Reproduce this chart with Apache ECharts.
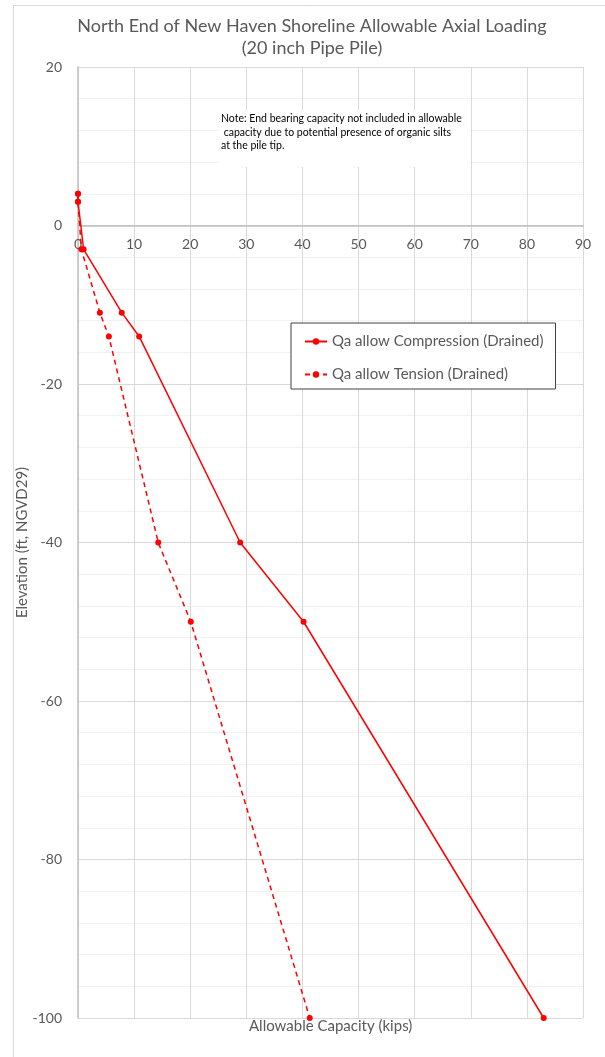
<!DOCTYPE html>
<html>
<head>
<meta charset="utf-8">
<script src="https://cdn.jsdelivr.net/npm/echarts@6/dist/echarts.min.js"></script>
<style>html,body{margin:0;padding:0;background:#fff;}#c{width:605px;height:1057px;}</style>
</head>
<body>
<div id="c"></div>
<script>
var elevations = [4, 3, -3, -11, -14, -40, -50, -100];
var compression = [0, 0, 1, 7.8, 10.9, 28.9, 40.2, 83];
var tension = [0, 0, 0.6, 3.9, 5.5, 14.3, 20.1, 41.3];
var seriesNames = ['Qa allow Compression (Drained)', 'Qa allow Tension (Drained)'];
var titleText = 'North End of New Haven Shoreline Allowable Axial Loading\n(20 inch Pipe Pile)';
var xAxisTitle = 'Allowable Capacity (kips)';
var yAxisTitle = 'Elevation (ft, NGVD29)';
var noteText = 'Note: End bearing capacity not included in allowable\n capacity due to potential presence of organic silts\nat the pile tip.';

function pairs(xs, ys) { return xs.map(function (v, i) { return [v, ys[i]]; }); }

var W = 605, H = 1057;
var GRID = {left: 78, right: 22, top: 67, bottom: 39};
var Y_MIN = -100, Y_MAX = 20;
// shift the x axis up so that it sits on elevation 0
var plotH = H - GRID.top - GRID.bottom;
var xAxisOffset = -plotH * (0 - Y_MIN) / (Y_MAX - Y_MIN);

var FONT = 'Lato, "Open Sans", sans-serif';
var chart = echarts.init(document.getElementById('c'), null, {renderer: 'canvas'});
chart.setOption({
  backgroundColor: '#fff',
  animation: false,
  title: {
    text: titleText,
    left: 307, top: 10, textAlign: 'center',
    textStyle: {fontFamily: FONT, fontSize: 18, fontWeight: 'normal', color: '#595959', lineHeight: 22}
  },
  legend: {
    orient: 'vertical',
    left: 291, top: 323,
    padding: [11, 12, 7, 13],
    itemGap: 18,
    itemWidth: 22, itemHeight: 8,
    borderColor: '#404040', borderWidth: 1,
    backgroundColor: '#fff',
    textStyle: {fontFamily: FONT, fontSize: 15, color: '#595959'},
    data: seriesNames
  },
  grid: GRID,
  xAxis: {
    type: 'value', min: 0, max: 90, interval: 10,
    offset: xAxisOffset,
    axisLine: {onZero: false, lineStyle: {color: '#bfbfbf', width: 1.5}},
    axisTick: {show: false},
    axisLabel: {fontFamily: FONT, fontSize: 14, color: '#595959', margin: 12},
    splitLine: {show: true, lineStyle: {color: '#d9d9d9'}}
  },
  yAxis: {
    type: 'value', min: Y_MIN, max: Y_MAX, interval: 20,
    axisLine: {show: true, lineStyle: {color: '#bfbfbf', width: 1.5}},
    axisTick: {show: false},
    axisLabel: {fontFamily: FONT, fontSize: 14, color: '#595959', margin: 16},
    splitLine: {show: true, lineStyle: {color: '#d9d9d9'}},
    minorTick: {show: false, splitNumber: 5},
    minorSplitLine: {show: true, lineStyle: {color: '#f2f2f2'}},
    name: yAxisTitle, nameLocation: 'middle', nameGap: 48, nameRotate: 90,
    nameMoveOverlap: false,
    nameTextStyle: {fontFamily: FONT, fontSize: 15, color: '#595959'}
  },
  graphic: [
    {type: 'rect', left: 11, top: 3, shape: {width: 592, height: 1052}, style: {fill: 'none', stroke: '#d9d9d9', lineWidth: 1}, silent: true, z: 0},
    {type: 'rect', left: 219, top: 110, shape: {width: 251, height: 57}, style: {fill: '#fff'}, z: 5},
    {type: 'text', left: 221, top: 112, z: 6,
     style: {text: noteText, font: '10.5px ' + FONT, fill: '#000', lineHeight: 13.5}},
    {type: 'text', left: 249, top: 1019, z: 6,
     style: {text: xAxisTitle, font: '15px ' + FONT, fill: '#595959'}}
  ],
  series: [{
    name: seriesNames[0], type: 'line',
    data: pairs(compression, elevations),
    color: '#ff0000',
    symbol: 'circle', symbolSize: 6,
    lineStyle: {width: 1.5, color: '#ff0000'},
    itemStyle: {color: '#ff0000'},
    z: 10
  }, {
    name: seriesNames[1], type: 'line',
    data: pairs(tension, elevations),
    color: '#ff0000',
    symbol: 'circle', symbolSize: 6,
    lineStyle: {width: 1.5, color: '#ff0000', type: [5, 4]},
    itemStyle: {color: '#ff0000'},
    z: 10
  }]
});
</script>
</body>
</html>
